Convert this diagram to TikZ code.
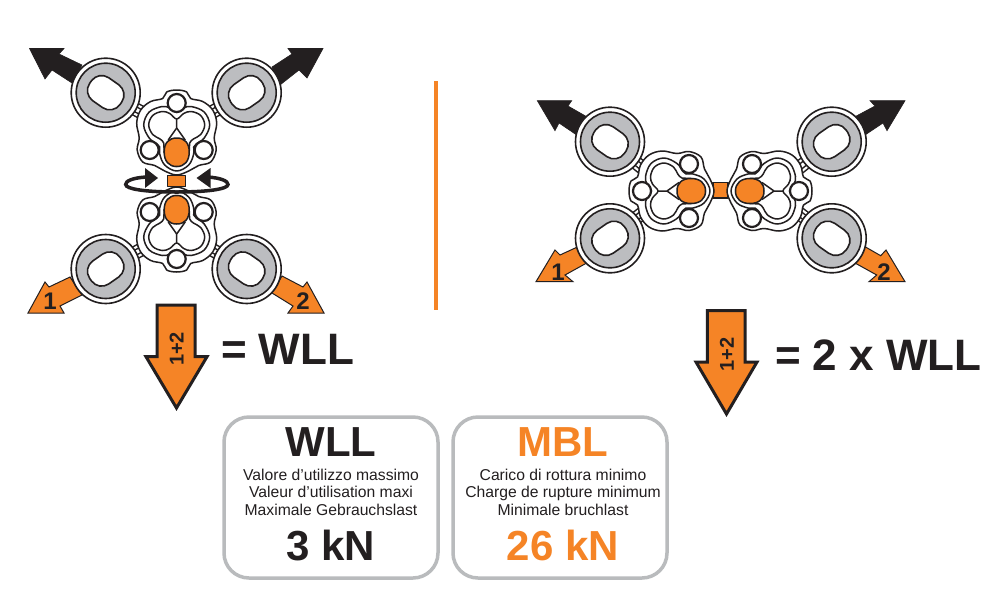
\documentclass[tikz,border=0pt]{standalone}
\usepackage{fontspec}
\setmainfont{Liberation Sans}
\usetikzlibrary{calc}
\definecolor{og}{HTML}{F58426}
\definecolor{bk}{HTML}{231F20}
\definecolor{gr}{HTML}{BCBDC0}
\definecolor{bx}{HTML}{B9BBBD}
\tikzset{
  thinline/.style={draw=bk,line width=1.5pt,line join=round},
  ringline/.style={draw=bk,line width=1.6pt},
  arrowblack/.style={fill=bk,draw=bk,line width=0.6pt,line join=miter},
  arroworange/.style={fill=og,draw=bk,line width=1pt,line join=miter},
  bigarrow/.style={fill=og,draw=bk,line width=3pt,line join=miter},
  panel/.style={draw=bx,line width=3.5pt,rounded corners=25pt,fill=white},
  txt/.style={inner sep=0pt,outer sep=0pt,anchor=base,text=bk},
  rotmark/.style={draw=bk,line width=3.5pt,line cap=round},
  numtxt/.style={txt,font=\bfseries\fontsize{24}{24}\selectfont},
  sumtxt/.style={txt,rotate=90,anchor=center,font=\bfseries\fontsize{20}{20}\selectfont},
  bigtxt/.style={txt,font=\bfseries\fontsize{42}{42}\selectfont},
  smalltxt/.style={txt,font=\fontsize{15.7}{15.7}\selectfont},
  eqtxt/.style={txt,anchor=base west,font=\bfseries\fontsize{44}{44}\selectfont},
}
\newcommand{\myring}[3]{% x,y,angle
  \begin{scope}[shift={(#1,#2)}]
    \draw[ringline,fill=white] (0,0) circle (34.5);
    \draw[ringline,fill=gr] (0,0) circle (29.5);
    \begin{scope}[rotate=#3]
      \draw[ringline,fill=white,rounded corners=12.5pt] (-18.5,-14) rectangle (18.5,14);
    \end{scope}
  \end{scope}}
\newcommand{\mylug}[2]{% from ring coordinate to plate coordinate
  \draw[bk,line width=14pt] (#1) -- (#2);
  \draw[white,line width=11pt] (#1) -- (#2);
  \draw[bk,line width=6.5pt] (#1) -- (#2);
  \draw[white,line width=3.5pt] (#1) -- (#2);}
\newcommand{\myplate}[3]{% x,y,rotation
  \begin{scope}[shift={(#1,#2)},rotate=#3]
    \draw[thinline,fill=white] plot[smooth cycle,tension=0.6] coordinates {
      (0,-42)(-10,-40)(-14,-33.5)(-26,-30.5)(-36,-22)(-40,-9)(-37.5,6)(-39.5,18)(-34,30)(-22,33.5)(-12,39)(0,43)
      (12,39)(22,33.5)(34,30)(39.5,18)(37.5,6)(40,-9)(36,-22)(26,-30.5)(14,-33.5)(10,-40)};
    \draw[thinline] plot[smooth cycle,tension=0.6] coordinates {
      (0,-19.5)(-7,-24)(-14.5,-25.5)(-27.5,-20)(-33,-7)(-27.5,6)(-19.5,12)(-17,15)(-17,22)(-12,33)(0,39)
      (12,33)(17,22)(17,15)(19.5,12)(27.5,6)(33,-7)(27.5,-20)(14.5,-25.5)(7,-24)};
    \draw[thinline] plot[smooth cycle,tension=0.6] coordinates {
      (0,-13)(-7,-18.5)(-14.5,-20.5)(-24,-16.5)(-28,-7)(-24,2.5)(-17,6.8)(-13,11)(-12.5,20)(-9,30)(0,34.5)
      (9,30)(12.5,20)(13,11)(17,6.8)(24,2.5)(28,-7)(24,-16.5)(14.5,-20.5)(7,-18.5)};
    \draw[thinline] (0,-13) -- (0,-4) -- (-8.5,8);
    \draw[thinline] (0,-4) -- (8.5,8);
    \draw[thinline,fill=og] (0,6) .. controls (-8,6) and (-12.5,11) .. (-12.5,20)
      .. controls (-12.5,29) and (-8,34.5) .. (0,34.5)
      .. controls (8,34.5) and (12.5,29) .. (12.5,20)
      .. controls (12.5,11) and (8,6) .. (0,6) -- cycle;
    \foreach \p in {(0,-29),(-27,18),(27,18)}
      \draw[draw=bk,line width=2.2pt,fill=white] \p circle (9);
  \end{scope}}
\begin{document}
\begin{tikzpicture}[x=1pt,y=-1pt]
\useasboundingbox (0,0) rectangle (994,606);
\fill[white] (0,0) rectangle (994,606);
% coordinates
\coordinate (ra) at (105.7,92.7);
\coordinate (rb) at (246.7,92.7);
\coordinate (rc) at (105.7,269);
\coordinate (rd) at (246.7,269);
\coordinate (pa) at (176.7,132);
\coordinate (pb) at (176.7,230);
\coordinate (re) at (610,141.7);
\coordinate (rf) at (831.7,141.7);
\coordinate (rg) at (610,238.3);
\coordinate (rh) at (831.7,238.3);
\coordinate (pc) at (671,191);
\coordinate (pd) at (770,191);
% left arrows
\draw[arrowblack] (29.5,48.5)--(64,48.5)--(59,54)--(82,65)--(72,83)--(52,70)--(45,79)--cycle;
\draw[arrowblack] (323,48.5)--(288,48.5)--(292,54)--(272,67)--(280,85)--(299,70)--(307,78)--cycle;
\draw[arroworange] (28,313)--(45,282)--(49,287)--(70,277)--(82,295)--(60,306)--(64,313)--cycle;
\draw[arroworange] (324,313)--(307,282)--(303,287)--(282,276)--(272,293)--(293,306)--(288,313)--cycle;
% right arrows
\draw[arrowblack] (537.3,100.7)--(571.7,100.7)--(568,106)--(586.7,116.7)--(576.7,135)--(559,123)--(555,130.7)--cycle;
\draw[arrowblack] (905,100.7)--(870,100.7)--(875,106)--(855,116.7)--(865,135)--(883,123)--(887,130.7)--cycle;
\draw[arroworange] (536,281.7)--(555,250)--(560,255)--(578,246.7)--(586.7,263)--(565,275)--(573,281.7)--cycle;
\draw[arroworange] (905,281.7)--(886,250)--(880.7,255.7)--(865,246.7)--(855,263)--(876.7,275)--(869,281.7)--cycle;
\node[numtxt] (n1) at (50,309) {1};
\node[numtxt] (n2) at (303,309) {2};
\node[numtxt] (n3) at (558,280) {1};
\node[numtxt] (n4) at (884,280) {2};
% lugs
\mylug{ra}{pa}\mylug{rb}{pa}\mylug{rc}{pb}\mylug{rd}{pb}
\mylug{re}{pc}\mylug{rg}{pc}\mylug{rf}{pd}\mylug{rh}{pd}
% rings
\myring{105.7}{92.7}{-35}\myring{246.7}{92.7}{35}\myring{105.7}{269}{35}\myring{246.7}{269}{-35}
\myring{610}{141.7}{-35}\myring{831.7}{141.7}{35}\myring{610}{238.3}{35}\myring{831.7}{238.3}{-35}
% connectors
\draw[thinline,fill=og] (713,182.7) rectangle (728,198);
% plates
\myplate{176.7}{132}{0}
\myplate{176.7}{230}{180}
\myplate{671}{191}{90}
\myplate{770}{191}{-90}
\draw[thinline,fill=og] (167.7,175.7) rectangle (185.7,186.5);
% rotation mark
\draw[rotmark] (146,177) .. controls (132,178) and (125.7,181) .. (125.7,184.5)
  .. controls (125.7,189) and (145,192) .. (176.7,192)
  .. controls (208,192) and (228,189) .. (228,184.5)
  .. controls (228,181) and (221,178) .. (208,177);
\fill[bk] (158,178)--(145,168)--(145,188)--cycle;
\fill[bk] (196.5,178)--(210.5,168)--(210.5,188)--cycle;
% divider
\draw[og,line width=3.5pt] (436,81) -- (436,310);
% big arrows
\draw[bigarrow] (157,305)--(195,305)--(195,356.7)--(207,356.7)--(176.5,408)--(146,356.7)--(157,356.7)--cycle;
\draw[bigarrow] (707.3,310.7)--(745,310.7)--(745,362)--(757,362)--(726.5,414)--(696,362)--(707.3,362)--cycle;
\node[sumtxt] (s1) at (176.7,349) {1+2};
\node[sumtxt] (s2) at (727,354.5) {1+2};
\node[eqtxt] (eq1) at (221,364) {= WLL};
\node[eqtxt] (eq2) at (775,370.5) {= 2 x WLL};
% panels
\draw[panel] (224,417) rectangle (438,578);
\draw[panel] (453,417) rectangle (667,578);
\node[bigtxt] (t1) at (331,456.7) {WLL};
\node[smalltxt] (t2) at (331,480) {Valore d’utilizzo massimo};
\node[smalltxt] (t3) at (331,497.7) {Valeur d’utilisation maxi};
\node[smalltxt] (t4) at (331,515) {Maximale Gebrauchslast};
\node[bigtxt] (t5) at (331,560) {3 kN};
\node[bigtxt,text=og] (u1) at (563,456.7) {MBL};
\node[smalltxt] (u2) at (563,480) {Carico di rottura minimo};
\node[smalltxt] (u3) at (563,497.7) {Charge de rupture minimum};
\node[smalltxt] (u4) at (563,515) {Minimale bruchlast};
\node[bigtxt,text=og] (u5) at (563,560) {26 kN};
\end{tikzpicture}
\end{document}
